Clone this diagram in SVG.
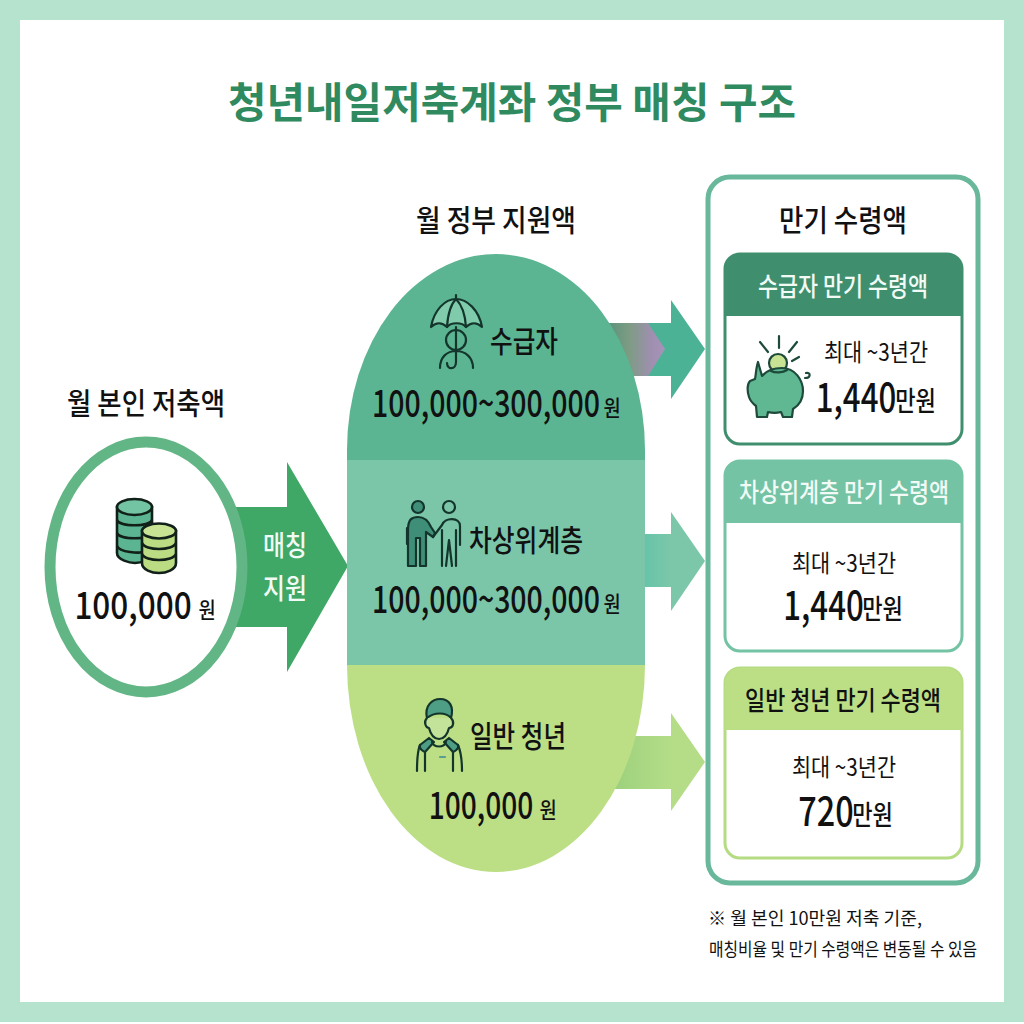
<svg xmlns="http://www.w3.org/2000/svg" width="1024" height="1024" viewBox="0 0 1024 1024">
<defs>
<linearGradient id="g1" x1="0" x2="1" y1="0" y2="0"><stop offset="0" stop-color="#4f8f78"/><stop offset="0.45" stop-color="#7d9c84"/><stop offset="0.8" stop-color="#a08fb0"/><stop offset="1" stop-color="#a594b8"/></linearGradient>
<linearGradient id="g2" x1="0" x2="1" y1="0" y2="0"><stop offset="0" stop-color="#62c4a8"/><stop offset="1" stop-color="#7cc7aa"/></linearGradient>
<linearGradient id="g3" x1="0" x2="1" y1="0" y2="0"><stop offset="0" stop-color="#9bd07c"/><stop offset="1" stop-color="#b5dd88"/></linearGradient>
<clipPath id="capsule"><path d="M347 450A149 196 0 0 1 645 450V665A149 207 0 0 1 347 665Z"/></clipPath>
</defs>
<style>
text{font-family:"Noto Sans CJK KR","Noto Sans",sans-serif;fill:#111;text-anchor:middle}
.b{font-weight:700}
.m{font-weight:500}
.w{fill:#f2faf5;font-weight:500}
.n{font-weight:400}
.i{fill:none;stroke:#14352c;stroke-width:2.2;stroke-linecap:round;stroke-linejoin:round}
.k{stroke:#12201a;stroke-width:2.6}
</style>
<rect x="10" y="10" width="1004" height="1002" fill="#fff" stroke="#b5e3cd" stroke-width="20"/>
<text x="512" y="118" class="b" font-size="42" style="fill:#2f8a5f" textLength="568" lengthAdjust="spacingAndGlyphs">청년내일저축계좌 정부 매칭 구조</text>

<g id="connectors">
<path id="arrow-match" d="M228 507H287V462L348 566L287 672V627H228Z" fill="#3fa866"/>
<path d="M600 323H671V300L705 349L671 399V376H600Z" fill="#4bb296"/>
<path d="M600 323H648L665 349L648 376H600Z" fill="url(#g1)"/>
<path d="M640 534H671V512L705 561L671 611V587H640Z" fill="#7cc7aa"/>
<path d="M640 534H671V587H640Z" fill="url(#g2)"/>
<path d="M610 736H671V713L705 762L671 811V789H610Z" fill="#b5dd88"/>
<path d="M610 736H671V789H610Z" fill="url(#g3)"/>
</g>

<g id="node-self">
<text x="146" y="414" class="m" font-size="30" textLength="158" lengthAdjust="spacingAndGlyphs">월 본인 저축액</text>
<ellipse cx="146" cy="567" rx="96" ry="125" fill="#fff" stroke="#62b585" stroke-width="11"/>
<g class="k">
<path d="M117 507V553C117 560 130 563 135 563S152 560 152 553V507Z" fill="#5cb592"/>
<ellipse cx="134.500" cy="507" rx="17.500" ry="8" fill="#72c4a2"/>
<path d="M117 520C120 527 149 527 152 520M117 533C120 540 149 540 152 533M117 546C120 553 140 553 142 552" fill="none"/>
<path d="M142 531V563C142 570 152 573 159 573S176 570 176 563V531Z" fill="#bcdc84"/>
<ellipse cx="159" cy="531" rx="17" ry="7.500" fill="#c9e394"/>
<path d="M142 543C145 551 173 551 176 543M142 554C145 562 173 562 176 554" fill="none"/>
</g>
<text transform="translate(133 619) scale(.83 1)" class="m" font-size="38">100,000</text>
<text transform="translate(207 618) scale(.85 1)" class="m" font-size="22">원</text>
</g>

<g id="label-match">
<text x="285" y="556" class="w" font-size="28" textLength="44" lengthAdjust="spacingAndGlyphs">매칭</text>
<text x="285" y="599" class="w" font-size="28" textLength="44" lengthAdjust="spacingAndGlyphs">지원</text>
</g>

<text x="496" y="231" class="m" font-size="30" textLength="160" lengthAdjust="spacingAndGlyphs">월 정부 지원액</text>
<g clip-path="url(#capsule)">
<rect x="340" y="250" width="310" height="210" fill="#5bb592"/>
<rect x="340" y="460" width="310" height="205" fill="#7bc6a9"/>
<rect x="340" y="665" width="310" height="210" fill="#bcdf85"/>
</g>

<g id="node-recipient">
<g class="i">
<path d="M431 327C434 310 445 299 456 299S479 310 482 327C477 322 471 322 466 327C462 322 451 322 447 327C442 322 436 322 431 327Z" fill="#7fcbab"/>
<path d="M456 299V295M447 327C448 312 451 304 456 299C461 304 465 312 466 327"/>
<circle cx="456" cy="340" r="10"/>
<path d="M456 327V362C456 370 447 370 447 363M440 368C440 357 447 351 456 351S473 357 473 368"/>
</g>
<text x="524" y="352" class="m" font-size="30" textLength="68" lengthAdjust="spacingAndGlyphs">수급자</text>
<text transform="translate(486 417) scale(.75 1)" class="m" font-size="38">100,000~300,000</text>
<text transform="translate(612 416) scale(.85 1)" class="m" font-size="22">원</text>
</g>

<g id="node-near-poor">
<g class="i">
<circle cx="418" cy="507" r="6" fill="#3f8f78"/>
<path d="M408 566V530C408 519 412 517 418 517S428 520 431 527L435 533L433 537L426 532V566H420V538H416V566Z" fill="#3f8f78"/>
<circle cx="449" cy="507" r="6"/>
<path d="M433 537L442 525C445 517 460 517 460 526V545M442 530V566M456 530V566M449 540L446 566M449 540L452 566M407 528V544"/>
</g>
<text x="526" y="551" class="m" font-size="30" textLength="114" lengthAdjust="spacingAndGlyphs">차상위계층</text>
<text transform="translate(486 613) scale(.75 1)" class="m" font-size="38">100,000~300,000</text>
<text transform="translate(612 612) scale(.85 1)" class="m" font-size="22">원</text>
</g>

<g id="node-general">
<g class="i">
<path d="M427 718C424 705 433 699 440 699C450 699 454 707 451 718C446 712 434 712 427 718Z" fill="#4d9e84"/>
<path d="M427 718C423 722 426 728 429 728C431 736 435 739 439 739S447 736 449 728C453 728 455 722 451 718" fill="#c4e39a"/>
<path d="M429 738L420 745C418 749 425 752 425 752L434 742ZM449 738L458 745C460 749 453 752 453 752L444 742Z" fill="#4d9e84"/>
<path d="M420 745C417 752 417 762 417 771M458 745C461 752 462 762 462 771M425 752V771M453 752V771"/>
<path d="M432 742C434 748 444 748 446 742"/>
<path d="M440 757H445" stroke="#5a9e90"/>
</g>
<text x="518" y="747" class="m" font-size="30" textLength="96" lengthAdjust="spacingAndGlyphs">일반 청년</text>
<text transform="translate(481 819) scale(.76 1)" class="m" font-size="37">100,000</text>
<text transform="translate(548 818) scale(.85 1)" class="m" font-size="22">원</text>
</g>

<g id="panel">
<rect x="708" y="177" width="270" height="706" rx="22" fill="#fff" stroke="#69b89b" stroke-width="5"/>
<text x="843" y="231" class="m" font-size="30" textLength="128" lengthAdjust="spacingAndGlyphs">만기 수령액</text>
</g>

<g id="card-recipient">
<rect x="725" y="254" width="237" height="190" rx="15" fill="#fff" stroke="#3f8f6f" stroke-width="3"/>
<path d="M725 316V269A15 15 0 0 1 740 254H947A15 15 0 0 1 962 269V316Z" fill="#3f8f6f"/>
<text x="843" y="296" class="w" font-size="26" textLength="170" lengthAdjust="spacingAndGlyphs">수급자 만기 수령액</text>
<g stroke="#1d4a3a" stroke-width="2.200" stroke-linecap="round" stroke-linejoin="round">
<circle cx="778" cy="363" r="9" fill="#c9e394"/>
<path d="M758 362L762 376C767 370 775 368 782 368C795 368 803 380 803 391C803 400 798 406 793 409L792 417H783L781 412C777 413 772 413 768 412L767 417H757L756 406C752 403 750 400 749 397C747 391 747 384 750 381L755 379C756 374 756 368 758 362Z" fill="#5fb892"/>
<path d="M771 371C775 373 783 373 787 370" fill="none"/>
<path d="M779 336V348M760 342L768 352M797 342L789 352M799 357L792 361M805 378C811 378 811 372 806 373" fill="none"/>
</g>
<text x="876" y="361" class="n" font-size="24" textLength="104" lengthAdjust="spacingAndGlyphs">최대 ~3년간</text>
<text transform="translate(856 412) scale(.78 1)" class="m" font-size="40">1,440</text>
<text transform="translate(915.500 411) scale(.82 1)" class="m" font-size="27">만원</text>
</g>

<g id="card-near-poor">
<rect x="725" y="461" width="237" height="190" rx="15" fill="#fff" stroke="#74c3a5" stroke-width="3"/>
<path d="M725 523V476A15 15 0 0 1 740 461H947A15 15 0 0 1 962 476V523Z" fill="#74c3a5"/>
<text x="844" y="502" class="w" font-size="26" textLength="210" lengthAdjust="spacingAndGlyphs">차상위계층 만기 수령액</text>
<text x="844" y="572" class="n" font-size="24" textLength="104" lengthAdjust="spacingAndGlyphs">최대 ~3년간</text>
<text transform="translate(823.500 620) scale(.78 1)" class="m" font-size="40">1,440</text>
<text transform="translate(882.500 619) scale(.82 1)" class="m" font-size="27">만원</text>
</g>

<g id="card-general">
<rect x="725" y="668" width="237" height="190" rx="15" fill="#fff" stroke="#b5dc82" stroke-width="3"/>
<path d="M725 730V683A15 15 0 0 1 740 668H947A15 15 0 0 1 962 683V730Z" fill="#bcdf85"/>
<text x="843" y="710" class="m" font-size="26" textLength="196" lengthAdjust="spacingAndGlyphs">일반 청년 만기 수령액</text>
<text x="844" y="776" class="n" font-size="24" textLength="104" lengthAdjust="spacingAndGlyphs">최대 ~3년간</text>
<text transform="translate(826 826) scale(.81 1)" class="m" font-size="40">720</text>
<text transform="translate(872.500 825) scale(.82 1)" class="m" font-size="27">만원</text>
</g>

<text x="815" y="925" font-size="18" textLength="214" lengthAdjust="spacingAndGlyphs">※ 월 본인 10만원 저축 기준,</text>
<text x="843" y="956" font-size="18" textLength="268" lengthAdjust="spacingAndGlyphs">매칭비율 및 만기 수령액은 변동될 수 있음</text>
</svg>
